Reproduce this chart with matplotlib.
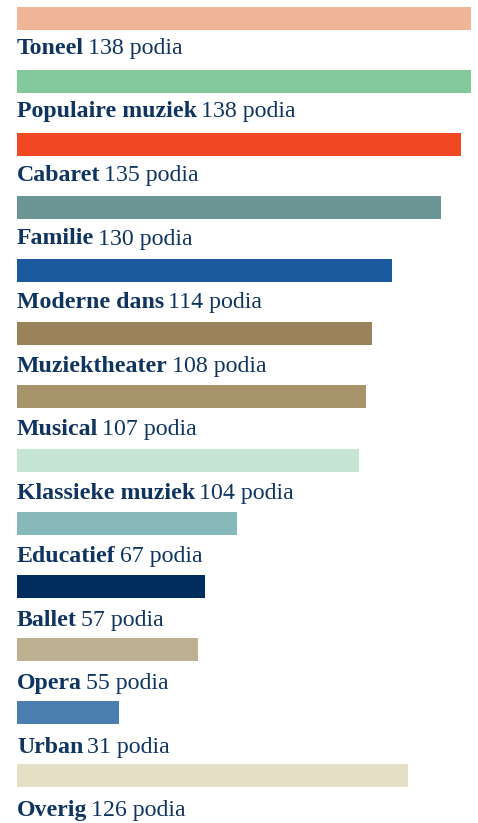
import matplotlib
matplotlib.use("Agg")
import matplotlib.pyplot as plt
from matplotlib.transforms import offset_copy

categories = ["Toneel", "Populaire muziek", "Cabaret", "Familie", "Moderne dans",
              "Muziektheater", "Musical", "Klassieke muziek", "Educatief", "Ballet",
              "Opera", "Urban", "Overig"]
podia = [138, 138, 135, 130, 114, 108, 107, 104, 67, 57, 55, 31, 126]
# bar lengths as drawn in the picture (Overig bar is drawn shorter than its count)
bar_lengths = [138, 138, 135, 129, 114, 108, 106, 104, 67, 57, 55, 31, 119]
colors = ["#f0b596", "#84c99b", "#ef4823", "#6b9594", "#1b5a9c", "#9a835a",
          "#a8946a", "#c6e6d3", "#87b9ba", "#012d5e", "#bcb091", "#4a7db0", "#e5dfc6"]

W, H = 478, 823
fig = plt.figure(figsize=(W / 100, H / 100), dpi=100)
left_px, right_px = 17, 471
ax = fig.add_axes([left_px / W, 0, (right_px - left_px) / W, 1])
pitch = 63.08
top_center = 18.5
ax.set_xlim(0, 138)
ax.set_ylim((H - top_center) / pitch, -top_center / pitch)
ax.axis("off")

bar_h = 23 / pitch
ys = list(range(len(categories)))
ax.barh(ys, bar_lengths, height=bar_h, color=colors, left=0)

text_color = "#0f3460"
fs = 17.2
text_pitch = 63.5
renderer = fig.canvas.get_renderer()
for i, (name, n) in enumerate(zip(categories, podia)):
    y = (54 + text_pitch * i - top_center) / pitch
    t1 = ax.text(0, y, name, fontsize=fs, fontweight="bold",
                 family="Liberation Serif", color=text_color, va="baseline", ha="left")
    w = t1.get_window_extent(renderer).width
    tr = offset_copy(ax.transData, fig=fig, x=w + 4, y=0, units="dots")
    ax.text(0, y, f"{n} podia", fontsize=fs, family="Liberation Serif",
            color=text_color, va="baseline", ha="left", transform=tr)

fig.savefig("out.png", dpi=100)
